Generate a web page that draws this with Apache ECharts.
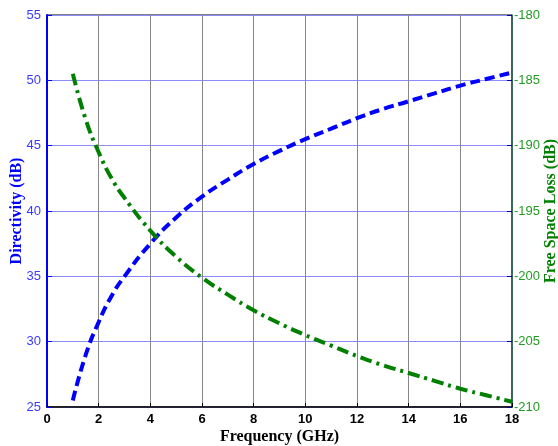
<!DOCTYPE html>
<html>
<head>
<meta charset="utf-8">
<script src="https://cdn.jsdelivr.net/npm/echarts@6/dist/echarts.min.js"></script>
<style>
  html, body { margin: 0; padding: 0; background: #fff; }
  #chart { width: 558px; height: 446px; }
</style>
</head>
<body>
<div id="chart"></div>
<script>
// Values
const freqGHz = [1, 1.5, 2, 2.5, 3, 4, 5, 6, 7, 8, 9, 10, 11, 12, 13, 14, 15, 16, 17, 18];
const directivity = [25.5, 29.0, 31.5, 33.5, 35.0, 37.5, 39.5, 41.1, 42.4, 43.6, 44.6, 45.5, 46.3, 47.1, 47.8, 48.4, 49.0, 49.6, 50.1, 50.6];
const freeSpaceLoss = [-184.5, -188.0, -190.5, -192.5, -194.0, -196.5, -198.5, -200.1, -201.4, -202.6, -203.6, -204.5, -205.3, -206.1, -206.8, -207.4, -208.0, -208.6, -209.1, -209.6];

const chart = echarts.init(document.getElementById('chart'));

const sansLabel = { fontFamily: 'Liberation Sans', fontSize: 13 };
const serifName = { fontFamily: 'Liberation Serif', fontSize: 16, fontWeight: 'bold' };

chart.setOption({
  animation: false,
  backgroundColor: '#fff',
  grid: {
    left: 47, right: 46, top: 15, bottom: 39,
    containLabel: false, outerBoundsMode: 'none',
    show: true, borderColor: '#000', borderWidth: 1
  },
  xAxis: {
    type: 'value',
    min: 0, max: 18, interval: 2,
    name: 'Frequency (GHz)',
    nameLocation: 'middle',
    nameGap: 22,
    nameMoveOverlap: false,
    nameTextStyle: Object.assign({ color: '#000' }, serifName),
    axisLine: { show: true, lineStyle: { color: '#000', width: 1.5 } },
    axisTick: { inside: true, length: 4, lineStyle: { color: '#000' } },
    axisLabel: Object.assign({ color: '#000', fontWeight: 'bold', margin: 6 }, sansLabel),
    splitLine: { show: true, lineStyle: { color: '#888', width: 1 } }
  },
  yAxis: [{
    type: 'value',
    min: 25, max: 55, interval: 5,
    name: 'Directivity (dB)',
    nameLocation: 'middle',
    nameGap: 22,
    nameMoveOverlap: false,
    nameTextStyle: Object.assign({ color: '#0000ff' }, serifName),
    axisLine: { show: true, lineStyle: { color: '#0000ff', width: 2 } },
    axisTick: { inside: true, length: 5, lineStyle: { color: '#0000ff' } },
    axisLabel: Object.assign({ color: '#3a3aff', margin: 6 }, sansLabel),
    splitLine: { show: true, lineStyle: { color: '#8c8cff', width: 1 } }
  }, {
    type: 'value',
    min: -210, max: -180, interval: 5,
    position: 'right',
    name: 'Free Space Loss (dB)',
    nameLocation: 'middle',
    nameGap: 31,
    nameRotate: 90,
    nameMoveOverlap: false,
    nameTextStyle: Object.assign({ color: '#008000' }, serifName),
    axisLine: { show: true, lineStyle: { color: '#1f5f4f', width: 1.5 } },
    axisTick: { inside: true, length: 5, lineStyle: { color: '#0000aa' } },
    axisLabel: Object.assign({ color: '#239a23', margin: 2 }, sansLabel),
    splitLine: { show: false }
  }],
  series: [{
    name: 'Directivity',
    type: 'line',
    yAxisIndex: 0,
    smooth: true,
    showSymbol: false,
    lineStyle: { color: '#0000ff', width: 4, type: [10, 5] },
    data: freqGHz.map((f, i) => [f, directivity[i]])
  }, {
    name: 'Free Space Loss',
    type: 'line',
    yAxisIndex: 1,
    smooth: true,
    showSymbol: false,
    lineStyle: { color: '#008000', width: 4, type: [12, 5, 3, 5] },
    data: freqGHz.map((f, i) => [f, freeSpaceLoss[i]])
  }]
});
</script>
</body>
</html>
